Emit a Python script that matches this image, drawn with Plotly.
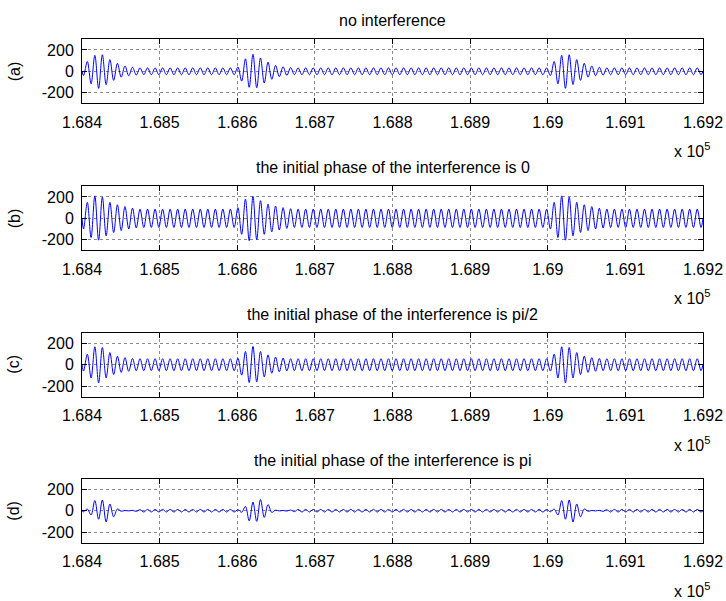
import plotly.graph_objects as go

# ---------------- data ----------------
t_first_extremum = 168402.0      # time of first extremum sample
t_axis_start = 168400.0
t_axis_end = 169200.0
half_period = 4.85               # spacing of successive extrema (time units)
burst_starts = [168402.0, 168601.0, 169003.0]

panel_titles = [
    "no interference",
    "the initial phase of the interference is 0",
    "the initial phase of the interference is pi/2",
    "the initial phase of the interference is pi",
]
panel_labels = ["(a)", "(b)", "(c)", "(d)"]

# burst envelopes: magnitude of successive extrema after a burst start
env_a = [40, 92, 117, 150, 160, 155, 125, 110, 85, 75, 55, 50, 42, 38, 35]
env_b = [100, 150, 180, 210, 205, 200, 165, 150, 133, 127, 115, 110, 100, 95, 90]
env_c = [60, 98, 124, 168, 171, 162, 124, 114, 92, 80, 72, 66, 62, 58]
env_d = [10, 15, 40, 95, 80, 100, 105, 63, 57, 16, 5, 2, 2, 3, 6, 9]

# steady (between bursts) oscillation amplitude
steady_a = 32
steady_b = 86
steady_c = 56
steady_d = 12

x_tick_vals = [168400, 168500, 168600, 168700, 168800, 168900, 169000, 169100, 169200]
x_tick_text = ["1.684", "1.685", "1.686", "1.687", "1.688", "1.689", "1.69", "1.691", "1.692"]
y_tick_vals = [-200, 0, 200]
y_tick_text = ["-200", "0", "200"]
y_range = [-300, 300]

envelopes = [env_a, env_b, env_c, env_d]
steadies = [steady_a, steady_b, steady_c, steady_d]


def build_signal(env, steady):
    xs = [t_axis_start]
    ys = [0.0]
    burst_idx = [round((b - t_first_extremum) / half_period) for b in burst_starts]
    k = 0
    while True:
        t = t_first_extremum + k * half_period
        if t > t_axis_end:
            break
        mag = steady
        for bi in burst_idx:
            j = k - bi
            if 0 <= j < len(env):
                mag = env[j]
        sign = -1 if k % 2 == 0 else 1
        xs.append(t)
        ys.append(sign * mag)
        k += 1
    xs.append(t_axis_end)
    ys.append(0.0)
    return xs, ys


# ---------------- layout geometry (pixels) ----------------
W, H = 726, 601
ax_left, ax_right = 82, 703
ax_tops = [39.3, 186.3, 332.7, 478.7]
ax_h = 64
FONT = "Liberation Sans, Arial, sans-serif"
FS = 16

fig = go.Figure()
annotations = []
for i in range(4):
    xs, ys = build_signal(envelopes[i], steadies[i])
    xa = "x" if i == 0 else f"x{i+1}"
    ya = "y" if i == 0 else f"y{i+1}"
    fig.add_trace(go.Scatter(
        x=xs, y=ys, mode="lines",
        line=dict(color="#0000FF", width=1, shape="spline", smoothing=1.0),
        xaxis=xa, yaxis=ya, showlegend=False, hoverinfo="skip"))
    top = ax_tops[i]
    bot = top + ax_h
    ydom = [1 - bot / H, 1 - top / H]
    xdom = [ax_left / W, ax_right / W]
    xkey = "xaxis" if i == 0 else f"xaxis{i+1}"
    ykey = "yaxis" if i == 0 else f"yaxis{i+1}"
    fig.update_layout(**{
        xkey: dict(
            domain=xdom, anchor=ya, range=[t_axis_start, t_axis_end],
            automargin=False,
            tickmode="array", tickvals=x_tick_vals, ticktext=x_tick_text,
            ticks="inside", ticklen=5, tickcolor="black", mirror="ticks",
            showline=True, linecolor="black", linewidth=1,
            showgrid=True, gridcolor="#8a8a8a", griddash="dot", gridwidth=1,
            zeroline=False, tickfont=dict(family=FONT, size=FS, color="black"),
            ticklabelstandoff=4,
        ),
        ykey: dict(
            domain=ydom, anchor=xa, range=y_range,
            automargin=False,
            tickmode="array", tickvals=y_tick_vals, ticktext=y_tick_text,
            ticks="inside", ticklen=5, tickcolor="black", mirror="ticks",
            showline=True, linecolor="black", linewidth=1,
            showgrid=True, gridcolor="#8a8a8a", griddash="dot", gridwidth=1,
            zeroline=False, tickfont=dict(family=FONT, size=FS, color="black"),
            ticklabelstandoff=4,
        ),
    })
    cx = (ax_left + ax_right) / 2 / W
    annotations.append(dict(
        text=panel_titles[i], xref="paper", yref="paper",
        x=cx, y=1 - (top - 18.5) / H, xanchor="center", yanchor="middle",
        showarrow=False, font=dict(family=FONT, size=FS, color="black")))
    annotations.append(dict(
        text=panel_labels[i], xref="paper", yref="paper",
        x=14 / W, y=1 - (top + ax_h / 2) / H, xanchor="center", yanchor="middle",
        textangle=-90, showarrow=False,
        font=dict(family=FONT, size=FS, color="black")))
    annotations.append(dict(
        text="x 10<sup>5</sup>", xref="paper", yref="paper",
        x=712 / W, y=1 - (bot + 47) / H, xanchor="right", yanchor="middle",
        showarrow=False, font=dict(family=FONT, size=FS, color="black")))

fig.update_layout(
    width=W, height=H, autosize=False,
    margin=dict(l=0, r=0, t=0, b=0, autoexpand=False),
    paper_bgcolor="white", plot_bgcolor="white",
    annotations=annotations,
)

fig.write_html(
    "out.html",
    config={"displayModeBar": False, "staticPlot": True},
    post_script="document.body.style.margin='0px';document.body.style.overflow='hidden';",
)
